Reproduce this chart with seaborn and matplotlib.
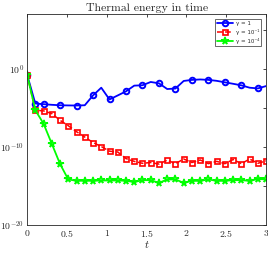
import numpy as np
import pandas as pd
import matplotlib
matplotlib.use("Agg")
import matplotlib.pyplot as plt
import seaborn as sns
from matplotlib.ticker import FixedLocator, FixedFormatter

sns.set_theme(style="white")
plt.rcParams['font.family'] = ['cmr10', 'DejaVu Serif']
plt.rcParams['mathtext.fontset'] = 'cm'
plt.rcParams['axes.formatter.use_mathtext'] = True

t = np.linspace(0, 3, 30)
labels = ['γ = 1', 'γ = 10⁻¹', 'γ = 10⁻⁴']

energy_g1 = [1.8e-1, 3.5e-5, 2.9e-5, 2.4e-5, 2.1e-5, 2.0e-5, 1.95e-5, 2.1e-5, 3.8e-4, 3.7e-3,
             1.15e-4, 3.8e-4, 1.26e-3, 6.8e-3, 7.6e-3, 2.0e-2, 1.35e-2, 2.5e-3, 2.9e-3, 2.7e-2,
             3.7e-2, 4.2e-2, 3.7e-2, 2.8e-2, 1.8e-2, 1.17e-2, 7.4e-3, 3.7e-3, 3.0e-3, 6.0e-3]
energy_g01 = [1.8e-1, 4.9e-6, 4.0e-6, 1.8e-6, 2.5e-7, 5.1e-8, 8.7e-9, 1.8e-9, 3.6e-10, 1.1e-10,
              2.8e-11, 2.2e-11, 3.2e-12, 1.4e-12, 7.9e-13, 1.0e-12, 6.3e-13, 2.0e-12, 7.1e-13, 2.8e-12,
              1.0e-12, 2.1e-12, 7.1e-13, 1.4e-12, 7.1e-13, 2.4e-12, 7.1e-13, 2.8e-12, 7.9e-13, 1.6e-12]
energy_g1e4 = [1.8e-1, 4.9e-6, 9.3e-8, 2.5e-10, 6.5e-13, 6.8e-15, 4.6e-15, 4.6e-15, 4.6e-15, 5.0e-15,
               5.0e-15, 5.0e-15, 4.6e-15, 3.2e-15, 5.5e-15, 5.5e-15, 2.5e-15, 6.8e-15, 6.8e-15, 2.5e-15,
               4.5e-15, 4.5e-15, 6.8e-15, 4.5e-15, 4.5e-15, 5.5e-15, 5.5e-15, 4.5e-15, 7.9e-15, 6.8e-15]

xticks = [0, 0.5, 1, 1.5, 2, 2.5, 3]
xticklabels = ['$0$', '$0.5$', '$1$', '$1.5$', '$2$', '$2.5$', '$3$']
yticks = [1e-20, 1e-10, 1e0]
yticklabels = [r'$10^{-20}$', r'$10^{-10}$', r'$10^{0}$']
yminor = [1e-15, 1e-5, 1e5]

fig = plt.figure(figsize=(2.68, 2.54), dpi=100)
ax = fig.add_axes([0.101, 0.114, 0.892, 0.831])

blue_marks = [0, 1] + list(range(2, 30, 2))
sns.lineplot(x=t, y=energy_g1, ax=ax, color=(0, 0, 1), linewidth=1.3, marker='o',
             markersize=4, markerfacecolor='none', markeredgecolor=(0, 0, 1), markeredgewidth=1.4,
             markevery=blue_marks, label=labels[0])
sns.lineplot(x=t, y=energy_g01, ax=ax, color=(1, 0, 0), linewidth=1.1, linestyle='--', marker='s',
             markersize=3.6, markerfacecolor='none', markeredgecolor=(1, 0, 0), markeredgewidth=1.2,
             label=labels[1])
sns.lineplot(x=t, y=energy_g1e4, ax=ax, color=(0, 1, 0), linewidth=1.3, marker='*',
             markersize=5.5, markerfacecolor='none', markeredgecolor=(0, 1, 0), markeredgewidth=1.1,
             label=labels[2])

ax.set_yscale('log')
ax.set_xlim(0, 3)
ax.set_ylim(1e-20, 1e7)
ax.xaxis.set_major_locator(FixedLocator(xticks))
ax.xaxis.set_major_formatter(FixedFormatter(xticklabels))
ax.yaxis.set_major_locator(FixedLocator(yticks))
ax.yaxis.set_major_formatter(FixedFormatter(yticklabels))
ax.yaxis.set_minor_locator(FixedLocator(yminor))
ax.yaxis.set_minor_formatter(FixedFormatter(['', '', '']))
ax.tick_params(axis='both', which='both', direction='in', top=True, right=True,
               length=2.5, width=0.6, colors='#262626', labelsize=7, pad=2)
ax.tick_params(axis='y', which='minor', length=2.5)
for s in ax.spines.values():
    s.set_color('#262626')
    s.set_linewidth(0.6)

ax.set_title('Thermal energy in time', fontsize=8.5, pad=2)
ax.set_xlabel('$t$', fontsize=8, labelpad=0)

leg = ax.legend(loc='upper right', frameon=True, fancybox=False,
                edgecolor='#262626', handlelength=2.9, handletextpad=0.4, borderpad=0.35,
                labelspacing=0.55, borderaxespad=0.3, bbox_to_anchor=(0.985, 0.985),
                prop={'family': 'DejaVu Sans', 'size': 4.0})
leg.get_frame().set_linewidth(0.6)

fig.savefig('out.png', dpi=100)
